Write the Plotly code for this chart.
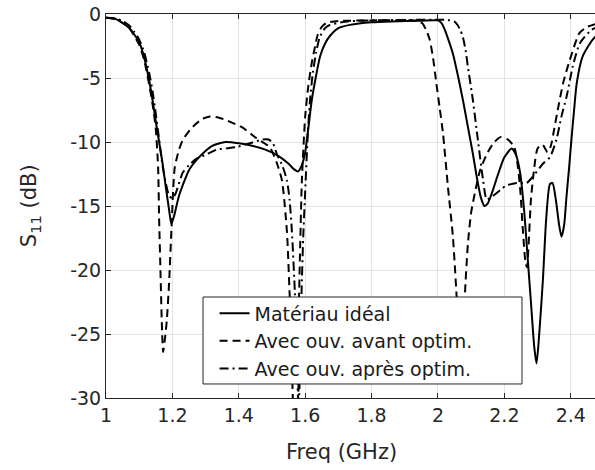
import plotly.graph_objects as go

# ---- data ----
freq_ideal = [1.0, 1.03, 1.05, 1.07, 1.085, 1.1, 1.115, 1.13, 1.14, 1.15, 1.16, 1.17, 1.18, 1.19, 1.197,
              1.205, 1.22, 1.25, 1.28, 1.32, 1.36, 1.4, 1.44, 1.48, 1.52, 1.55, 1.565, 1.578, 1.59, 1.6,
              1.61, 1.62, 1.633, 1.645, 1.66, 1.675, 1.7, 1.735, 1.8, 1.86, 1.95, 2.0, 2.01, 2.02, 2.03,
              2.045, 2.06, 2.075, 2.09, 2.105, 2.12, 2.13, 2.14, 2.15, 2.165, 2.18, 2.2, 2.222, 2.235,
              2.248, 2.26, 2.27, 2.28, 2.29, 2.297, 2.305, 2.316, 2.326, 2.337, 2.345, 2.355, 2.365,
              2.372, 2.38, 2.387, 2.395, 2.402, 2.41, 2.418, 2.436, 2.466, 2.5]
s11_ideal = [-0.3, -0.4, -0.7, -1.1, -1.6, -2.2, -3.4, -5.2, -6.7, -8.4, -10.0, -11.6, -13.5, -15.3, -16.4,
             -15.8, -14.2, -12.2, -11.2, -10.3, -10.0, -10.1, -10.3, -10.6, -11.1, -11.7, -12.1, -12.3, -11.8, -10.8,
             -8.8, -6.7, -4.8, -3.3, -2.3, -1.7, -1.1, -0.85, -0.65, -0.58, -0.52, -0.5, -0.7, -1.2, -1.9,
             -3.1, -4.8, -6.7, -8.8, -10.9, -13.2, -14.4, -15.0, -14.8, -13.8, -12.6, -11.2, -10.5, -11.0,
             -12.5, -15.5, -19.0, -22.5, -26.0, -27.3, -25.0, -20.8, -16.0, -13.3, -13.2, -14.5, -16.5,
             -17.4, -16.5, -14.3, -12.0, -9.8, -7.5, -5.4, -3.3, -2.0, -1.2]

freq_avant = [1.0, 1.03, 1.05, 1.07, 1.085, 1.1, 1.115, 1.13, 1.14, 1.15, 1.157, 1.16, 1.164, 1.168, 1.172,
              1.177, 1.183, 1.19, 1.197, 1.207, 1.22, 1.232, 1.262, 1.29, 1.313, 1.34, 1.363, 1.39, 1.413,
              1.453, 1.493, 1.514, 1.53, 1.545, 1.553, 1.56, 1.567, 1.575, 1.58, 1.585, 1.59, 1.6, 1.61,
              1.62, 1.63, 1.638, 1.65, 1.664, 1.7, 1.8, 1.93, 1.945, 1.954, 1.965, 1.975, 1.985, 1.995,
              2.005, 2.015, 2.03, 2.045, 2.056, 2.064, 2.07, 2.076, 2.081, 2.09, 2.1, 2.115, 2.127, 2.15,
              2.17, 2.19, 2.21, 2.23, 2.24, 2.248, 2.256, 2.264, 2.268, 2.273, 2.28, 2.29, 2.3, 2.315,
              2.33, 2.34, 2.35, 2.36, 2.377, 2.397, 2.426, 2.45, 2.5]
s11_avant = [-0.3, -0.4, -0.7, -1.1, -1.7, -2.4, -3.6, -5.5, -7.0, -9.0, -12.0, -16.0, -20.0, -24.0, -26.4,
             -25.5, -24.0, -21.0, -16.9, -12.0, -10.6, -9.8, -8.8, -8.2, -8.0, -8.1, -8.3, -8.6, -8.9,
             -9.7, -10.4, -11.6, -13.0, -17.0, -21.8, -26.0, -31.0, -31.0, -24.0, -18.0, -13.0, -8.0, -5.5,
             -3.8, -2.5, -1.6, -1.0, -0.7, -0.55, -0.5, -0.5, -0.6, -0.75, -1.3, -2.0, -3.4, -5.4,
             -7.3, -9.3, -13.5, -17.4, -22.0, -26.0, -28.8, -26.0, -22.0, -18.0, -15.5, -13.5, -12.2, -10.8,
             -10.0, -9.6, -9.8, -10.4, -11.8, -13.8, -17.0, -19.5, -19.8, -18.0, -14.5, -12.0, -10.5, -10.2,
             -10.8, -10.3, -9.0, -7.6, -5.4, -3.6, -1.5, -1.0, -0.6]

freq_apres = [1.0, 1.03, 1.05, 1.07, 1.085, 1.1, 1.115, 1.13, 1.14, 1.15, 1.16, 1.17, 1.18, 1.19, 1.2,
              1.21, 1.231, 1.25, 1.273, 1.3, 1.333, 1.393, 1.433, 1.472, 1.49, 1.503, 1.514, 1.532, 1.545,
              1.553, 1.56, 1.569, 1.575, 1.58, 1.585, 1.589, 1.594, 1.599, 1.608, 1.615, 1.623, 1.633, 1.644,
              1.66, 1.674, 1.72, 1.8, 2.0, 2.03, 2.05, 2.06, 2.068, 2.075, 2.083, 2.09, 2.105, 2.12, 2.136,
              2.147, 2.166, 2.19, 2.206, 2.237, 2.267, 2.286, 2.316, 2.337, 2.357, 2.372, 2.387, 2.406,
              2.427, 2.462, 2.5]
s11_apres = [-0.3, -0.35, -0.55, -0.9, -1.4, -2.0, -3.0, -4.6, -6.0, -7.8, -9.8, -11.8, -13.2, -14.2, -14.4,
             -14.0, -12.4, -11.8, -11.3, -11.0, -10.6, -10.4, -10.1, -9.8, -9.8, -10.1, -10.9, -11.9, -13.0,
             -14.5, -17.0, -21.8, -27.0, -31.0, -27.0, -21.8, -17.5, -14.5, -9.3, -6.6, -4.6, -3.0, -1.8,
             -1.1, -0.86, -0.6, -0.5, -0.45, -0.47, -0.6, -0.9, -1.3, -1.8, -2.8, -4.1, -6.7, -9.8, -13.0,
             -14.5, -14.2, -13.7, -13.4, -13.2, -13.2, -12.7, -11.7, -11.2, -9.8, -8.0, -6.5, -4.1,
             -2.3, -1.25, -0.8]

labels = ["Matériau idéal", "Avec ouv. avant optim.", "Avec ouv. après optim."]
x_ticks = [1.0, 1.2, 1.4, 1.6, 1.8, 2.0, 2.2, 2.4]
x_ticklabels = ["1", "1.2", "1.4", "1.6", "1.8", "2", "2.2", "2.4"]
y_ticks = [0, -5, -10, -15, -20, -25, -30]
y_ticklabels = ["0", "-5", "-10", "-15", "-20", "-25", "-30"]
x_title = "Freq (GHz)"
y_title = "S<sub>11</sub> (dB)"

FONT = "DejaVu Sans"
TXT = "#262626"
fig = go.Figure()
series = [
    (freq_ideal, s11_ideal, labels[0], "solid"),
    (freq_avant, s11_avant, labels[1], "8px,5px"),
    (freq_apres, s11_apres, labels[2], "9px,4px,2px,4px"),
]
for fx, fy, name, dash in series:
    fig.add_trace(go.Scatter(
        x=fx, y=fy, mode="lines", name=name,
        line=dict(color="black", width=2, dash=dash, shape="spline", smoothing=0.6),
    ))

# plot area: x 106..595, y 14..398 in the window (body margin removed below)
fig.update_layout(
    width=595, height=470,
    margin=dict(l=106, r=0, t=14, b=72),
    plot_bgcolor="white", paper_bgcolor="white",
    font=dict(family=FONT, color=TXT),
    showlegend=True,
    legend=dict(
        x=0.222, y=0.270, xanchor="left", yanchor="top",
        bgcolor="rgba(0,0,0,0)", borderwidth=0,
        font=dict(family=FONT, size=19, color="#1a1a1a"),
    ),
    shapes=[
        # legend frame (white box with dark border)
        dict(type="rect", xref="paper", yref="paper", x0=0.1984, x1=0.8507, y0=0.0365, y1=0.263,
             fillcolor="white", line=dict(color=TXT, width=1), layer="above"),
    ],
    annotations=[
        dict(text=x_title, xref="paper", yref="paper", x=0.4806, y=-0.141,
             xanchor="center", yanchor="middle", showarrow=False,
             font=dict(family=FONT, size=21, color=TXT)),
        dict(text=y_title, xref="paper", yref="paper", x=-0.155, y=0.5,
             xanchor="center", yanchor="middle", showarrow=False, textangle=-90,
             font=dict(family=FONT, size=21, color=TXT)),
    ],
)
fig.update_xaxes(
    range=[1.0, 2.473], tickmode="array", tickvals=x_ticks, ticktext=x_ticklabels,
    showgrid=True, gridcolor="#e3e3e3", gridwidth=1,
    showline=True, linecolor=TXT, linewidth=1, mirror="ticks",
    ticks="inside", ticklen=5, tickcolor=TXT,
    tickfont=dict(family=FONT, size=19, color=TXT),
    automargin=False, zeroline=False, ticklabeloverflow="allow",
)
fig.update_yaxes(
    range=[-30, 0], tickmode="array", tickvals=y_ticks, ticktext=y_ticklabels,
    showgrid=True, gridcolor="#e3e3e3", gridwidth=1,
    showline=True, linecolor=TXT, linewidth=1, mirror=False,
    ticks="inside", ticklen=5, tickcolor=TXT,
    tickfont=dict(family=FONT, size=19, color=TXT),
    automargin=False, zeroline=False, ticklabeloverflow="allow",
)

fig.write_html("out.html", config={"displayModeBar": False},
               post_script="document.body.style.margin='0';")
